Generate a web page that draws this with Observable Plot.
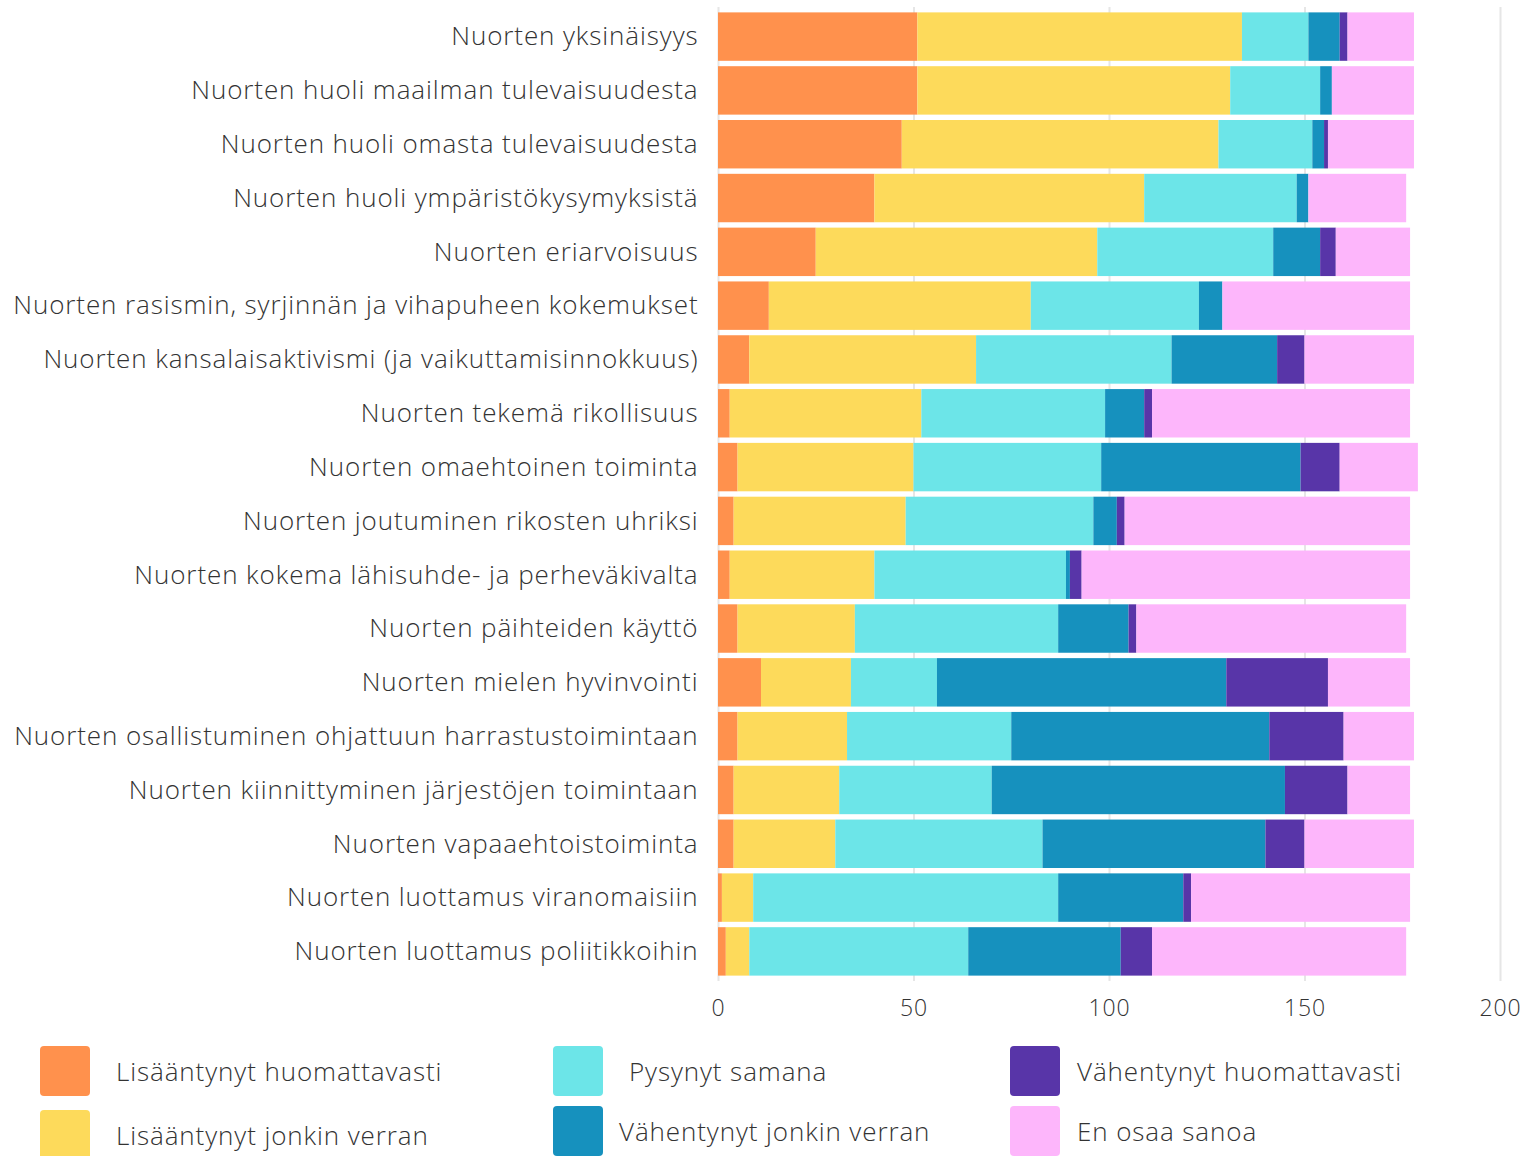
<!DOCTYPE html>
<html>
<head>
<meta charset="utf-8">
<script src="https://cdn.jsdelivr.net/npm/d3@7"></script>
<script src="https://cdn.jsdelivr.net/npm/@observablehq/plot@0.6"></script>
<style>
  body { margin: 0; background: #fff; font-family: "Open Sans", sans-serif; }
  #chart svg { display: block; }
  #legend { position: relative; width: 1527px; height: 127px; }
  .item { position: absolute; display: flex; align-items: center; font-size: 26px; letter-spacing: 0.9px; font-weight: 300; color: #333; }
  .sw { width: 50px; height: 50px; border-radius: 4px; margin-right: 26px; }
</style>
</head>
<body>
<div id="chart"></div>
<div id="legend"></div>
<script>
const categories = [
  "Nuorten yksinäisyys",
  "Nuorten huoli maailman tulevaisuudesta",
  "Nuorten huoli omasta tulevaisuudesta",
  "Nuorten huoli ympäristökysymyksistä",
  "Nuorten eriarvoisuus",
  "Nuorten rasismin, syrjinnän ja vihapuheen kokemukset",
  "Nuorten kansalaisaktivismi (ja vaikuttamisinnokkuus)",
  "Nuorten tekemä rikollisuus",
  "Nuorten omaehtoinen toiminta",
  "Nuorten joutuminen rikosten uhriksi",
  "Nuorten kokema lähisuhde- ja perheväkivalta",
  "Nuorten päihteiden käyttö",
  "Nuorten mielen hyvinvointi",
  "Nuorten osallistuminen ohjattuun harrastustoimintaan",
  "Nuorten kiinnittyminen järjestöjen toimintaan",
  "Nuorten vapaaehtoistoiminta",
  "Nuorten luottamus viranomaisiin",
  "Nuorten luottamus poliitikkoihin"
];
const seriesNames = [
  "Lisääntynyt huomattavasti",
  "Lisääntynyt jonkin verran",
  "Pysynyt samana",
  "Vähentynyt jonkin verran",
  "Vähentynyt huomattavasti",
  "En osaa sanoa"
];
const seriesColors = ["#FF914D", "#FDDA5B", "#6CE5E8", "#1691BE", "#5835A8", "#FDB6FB"];

const lisaantynytHuomattavasti = [51, 51, 47, 40, 25, 13, 8, 3, 5, 4, 3, 5, 11, 5, 4, 4, 1, 2];
const lisaantynytJonkinVerran  = [83, 80, 81, 69, 72, 67, 58, 49, 45, 44, 37, 30, 23, 28, 27, 26, 8, 6];
const pysynytSamana            = [17, 23, 24, 39, 45, 43, 50, 47, 48, 48, 49, 52, 22, 42, 39, 53, 78, 56];
const vahentynytJonkinVerran   = [8, 3, 3, 3, 12, 6, 27, 10, 51, 6, 1, 18, 74, 66, 75, 57, 32, 39];
const vahentynytHuomattavasti  = [2, 0, 1, 0, 4, 0, 7, 2, 10, 2, 3, 2, 26, 19, 16, 10, 2, 8];
const enOsaaSanoa              = [17, 21, 22, 25, 19, 48, 28, 66, 20, 73, 84, 69, 21, 18, 16, 28, 56, 65];

const xTicks = [0, 50, 100, 150, 200];

const seriesValues = [lisaantynytHuomattavasti, lisaantynytJonkinVerran, pysynytSamana,
  vahentynytJonkinVerran, vahentynytHuomattavasti, enOsaaSanoa];

const data = [];
categories.forEach((c, i) => {
  seriesNames.forEach((s, j) => {
    data.push({category: c, series: s, value: seriesValues[j][i]});
  });
});

const chart = Plot.plot({
  width: 1527,
  height: 1029,
  marginLeft: 718,
  marginRight: 27,
  marginTop: 7,
  marginBottom: 48,
  style: {fontFamily: "'Open Sans', sans-serif", fontWeight: 300, color: "#333", background: "#fff", letterSpacing: "0.9px"},
  x: {domain: [0, 200], ticks: xTicks, tickSize: 0, label: null},
  y: {domain: categories, label: null, tickSize: 0, padding: 0.1, round: false},
  color: {domain: seriesNames, range: seriesColors},
  marks: [
    Plot.ruleX(xTicks, {stroke: "#e6e6e6", strokeWidth: 2}),
    Plot.barX(data, Plot.stackX({
      y: "category",
      x: "value",
      fill: "series",
      order: seriesNames
    })),
    Plot.axisX({ticks: xTicks, tickSize: 0, tickPadding: 18, fontSize: 23, label: null, fill: "#333"}),
    Plot.axisY({tickSize: 0, tickPadding: 20, fontSize: 26, label: null, fill: "#333"})
  ]
});
document.getElementById("chart").appendChild(chart);

const legend = document.getElementById("legend");
const positions = [
  {left: 40, top: 17}, {left: 40, top: 81},
  {left: 553, top: 17}, {left: 553, top: 77},
  {left: 1010, top: 17}, {left: 1010, top: 77}
];
const textGap = [26, 26, 26, 16, 17, 17];
seriesNames.forEach((s, i) => {
  const d = document.createElement("div");
  d.className = "item";
  d.style.left = positions[i].left + "px";
  d.style.top = positions[i].top + "px";
  const sw = document.createElement("div");
  sw.className = "sw";
  sw.style.background = seriesColors[i];
  sw.style.marginRight = textGap[i] + "px";
  const t = document.createElement("span");
  t.textContent = s;
  d.appendChild(sw);
  d.appendChild(t);
  legend.appendChild(d);
});
</script>
</body>
</html>
